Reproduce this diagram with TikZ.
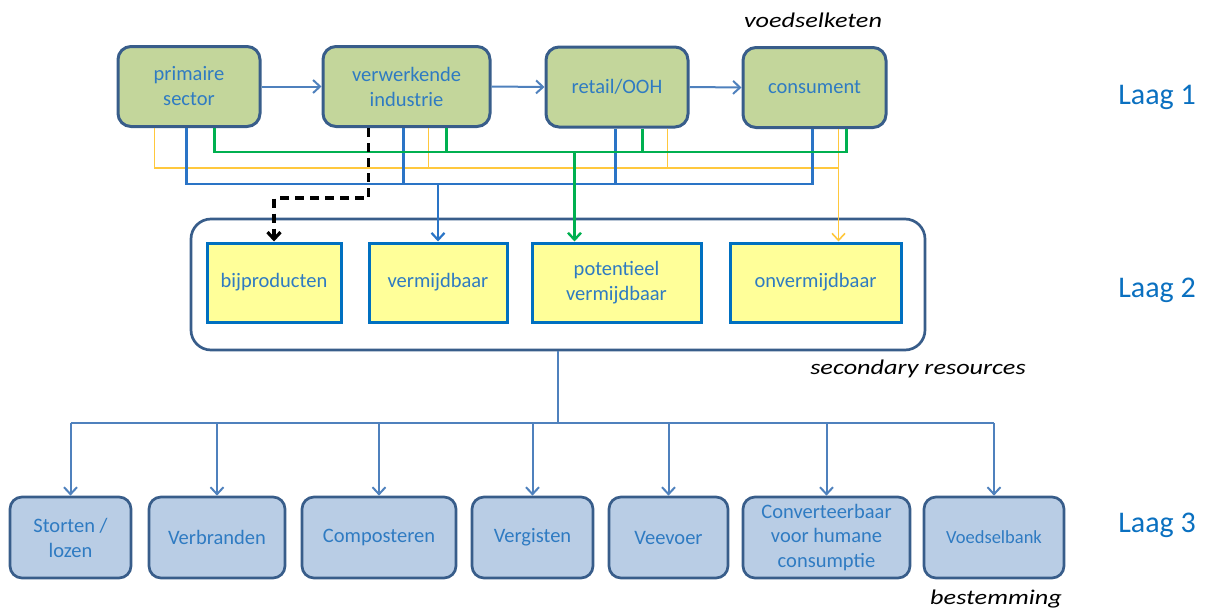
\documentclass[tikz,border=0pt]{standalone}
\usepackage{fontspec}
\setmainfont{Carlito}
\newfontfamily\lblfont[FakeStretch=1.25]{Carlito}
\usetikzlibrary{arrows.meta,calc}
\definecolor{txt}{HTML}{2F7BC2}
\definecolor{laag}{HTML}{0A70C0}
\definecolor{gfill}{HTML}{C3D69B}
\definecolor{dborder}{HTML}{385D8A}
\definecolor{yfill}{HTML}{FFFF99}
\definecolor{yborder}{HTML}{0070C0}
\definecolor{bfill}{HTML}{B9CDE5}
\definecolor{lblue}{HTML}{4F81BD}
\definecolor{dblue}{HTML}{2A74C6}
\definecolor{lgreen}{HTML}{00B050}
\definecolor{lyellow}{HTML}{FFC83D}
\tikzset{
  boxtext/.style={text=txt, font=\fontsize{20.5}{25}\selectfont, align=center},
  l1box/.style={boxtext, draw=dborder, fill=gfill, line width=3pt, rounded corners=13pt, minimum height=80pt},
  l2box/.style={boxtext, draw=yborder, fill=yfill, line width=3pt, minimum height=79pt},
  l3box/.style={boxtext, draw=dborder, fill=bfill, line width=2.7pt, rounded corners=12pt, minimum height=81pt},
  container/.style={draw=dborder, fill=white, line width=2.7pt, rounded corners=20pt},
  arr/.style={-{Straight Barb[length=7pt,width=13pt]}},
  flow/.style={draw=lblue, line width=2pt},
  bline/.style={draw=dblue, line width=2.2pt},
  gline/.style={draw=lgreen, line width=2.4pt},
  yline/.style={draw=lyellow, line width=1.6pt},
  kline/.style={draw=black, line width=3.2pt, dash pattern=on 9pt off 6pt},
  laaglbl/.style={text=laag, font=\fontsize{30}{35}\selectfont},
  itlbl/.style={text=black, font=\lblfont\itshape\fontsize{21}{25}\selectfont}
}
\begin{document}
\begin{tikzpicture}[x=1pt,y=-1pt]
\useasboundingbox (0,0) rectangle (1208,613);
% layer 1
\node[l1box, minimum width=142pt] (ps) at (189,86.5) {primaire\\sector};
\node[l1box, minimum width=167pt] (vi) at (406.5,86.5) {verwerkende\\industrie};
\node[l1box, minimum width=142pt] (ro) at (617,87) {retail/OOH};
\node[l1box, minimum width=143pt] (co) at (814.5,87.5) {consument};
\draw[flow,arr] (ps.east) -- (vi.west);
\draw[flow,arr] (vi.east) -- (ro.west);
\draw[flow,arr] (ro.east) -- (co.west);
% layer 2
\node[container, minimum width=734pt, minimum height=131pt] (ct) at (558,284.5) {};
\node[l2box, minimum width=134pt] (bp) at (274,282.5) {bijproducten};
\node[l2box, minimum width=138pt] (vm) at (438,282.5) {vermijdbaar};
\node[l2box, minimum width=169pt] (pv) at (616.5,282.5) {potentieel\\vermijdbaar};
\node[l2box, minimum width=171pt] (ov) at (815.5,282.5) {onvermijdbaar};
% bus coordinates
\coordinate (gbus) at (0,152);
\coordinate (ybus) at (0,168);
\coordinate (bbus) at (0,184);
\coordinate (kbus) at (0,198);
\coordinate (psY) at ($(ps.south west)+(38,0)$);
\coordinate (psB) at ($(ps.south west)+(70,0)$);
\coordinate (psG) at ($(ps.south west)+(98,0)$);
\coordinate (viK) at ($(vi.south west)+(47,0)$);
\coordinate (viB) at ($(vi.south west)+(82,0)$);
\coordinate (viY) at ($(vi.south west)+(107,0)$);
\coordinate (viG) at ($(vi.south west)+(125,0)$);
\coordinate (roB) at ($(ro.south west)+(71,0)$);
\coordinate (roG) at ($(ro.south west)+(98,0)$);
\coordinate (roY) at ($(ro.south west)+(123,0)$);
\coordinate (coB) at ($(co.south west)+(71,0)$);
\coordinate (coY) at ($(co.south west)+(97,0)$);
\coordinate (coG) at ($(co.south west)+(105,0)$);
\coordinate (pvG) at ($(pv.north west)+(44,0)$);
% yellow network
\draw[yline] (psY) -- (psY |- ybus) -- (coY |- ybus);
\draw[yline] (viY) -- (viY |- ybus);
\draw[yline] (roY) -- (roY |- ybus);
\draw[yline,arr] (coY) -- (coY |- ov.north);
% blue network
\draw[bline] (psB) -- (psB |- bbus) -- (coB |- bbus) -- (coB);
\draw[bline] (viB) -- (viB |- bbus);
\draw[bline] (roB) -- (roB |- bbus);
\draw[bline,arr] (vm.north |- bbus) -- (vm.north);
% green network
\draw[gline] (psG) -- (psG |- gbus) -- (coG |- gbus) -- (coG);
\draw[gline] (viG) -- (viG |- gbus);
\draw[gline] (roG) -- (roG |- gbus);
\draw[gline,arr] (pvG |- gbus) -- (pvG);
% black dashed
\draw[kline,arr] (viK) -- (viK |- kbus) -| (bp.north);
% layer 3
\node[l3box, minimum width=121pt] (st) at (70.5,537.5) {Storten /\\lozen};
\node[l3box, minimum width=136pt] (vb) at (217,537.5) {Verbranden};
\node[l3box, minimum width=154pt] (cp) at (379,537.5) {Composteren};
\node[l3box, minimum width=121pt] (vg) at (532.5,537.5) {Vergisten};
\node[l3box, minimum width=119pt] (vv) at (668.5,537.5) {Veevoer};
\node[l3box, minimum width=167pt, font=\fontsize{20.5}{24.5}\selectfont] (cv) at (826.5,537.5) {Converteerbaar\\voor humane\\consumptie};
\node[l3box, minimum width=140pt, font=\fontsize{18.5}{22}\selectfont] (vo) at (994,537.5) {Voedselbank};
\coordinate (dbus) at (558,423);
\draw[flow] (ct.south) -- (dbus);
\draw[flow] (st.north |- dbus) -- (vo.north |- dbus);
\foreach \n in {st,vb,cp,vg,vv,cv,vo}{
  \draw[flow,arr] (\n.north |- dbus) -- (\n.north);
}
% labels
\node[itlbl] (vk) at (813,20) {voedselketen};
\node[itlbl] (sr) at (918,369) {secondary resources};
\node[itlbl] (bs) at (996,599) {bestemming};
\node[laaglbl] (l1) at (1157,97) {Laag 1};
\node[laaglbl] (l2) at (1157,290) {Laag 2};
\node[laaglbl] (l3) at (1157,525) {Laag 3};
\end{tikzpicture}
\end{document}
